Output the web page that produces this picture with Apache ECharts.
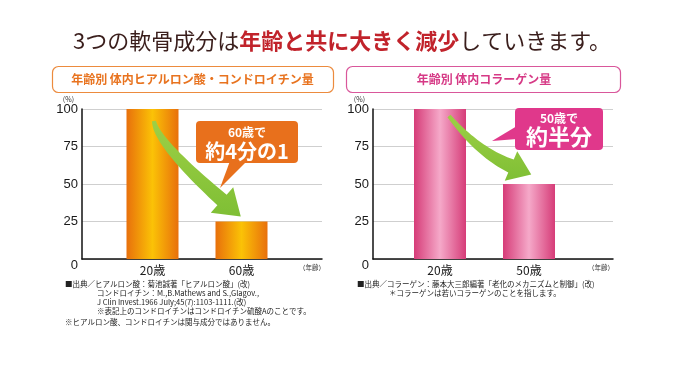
<!DOCTYPE html>
<html><head><meta charset="utf-8">
<script src="https://cdn.jsdelivr.net/npm/echarts@6/dist/echarts.min.js"></script>
<style>html,body{margin:0;padding:0;background:#fff}#c{width:700px;height:368px}</style>
</head><body><div id="c"></div>
<script>
// ---- data ----
const titleDark1 = '3つの軟骨成分は';
const titleRed = '年齢と共に大きく減少';
const titleDark2 = 'していきます。';
const leftHeader = '年齢別 体内ヒアルロン酸・コンドロイチン量';
const rightHeader = '年齢別 体内コラーゲン量';
const leftCategories = ['20歳', '60歳'];
const leftValues = [100, 25];
const rightCategories = ['20歳', '50歳'];
const rightValues = [100, 50];
const yMin = 0, yMax = 100, yStep = 25;
const yUnit = '(%)';
const xUnit = '（年齢）';
const leftCallout = ['60歳で', '約4分の1'];
const rightCallout = ['50歳で', '約半分'];
const leftNotes = [
  '■出典／ヒアルロン酸：菊池誠著「ヒアルロン酸」(改)',
  'コンドロイチン：M.,B.Mathews and S.,Glagov.,',
  'J Clin Invest.1966 July;45(7):1103-1111.(改)',
  '※表記上のコンドロイチンはコンドロイチン硫酸Aのことです。'
];
const bottomNote = '※ヒアルロン酸、コンドロイチンは関与成分ではありません。';
const rightNotes = [
  '■出典／コラーゲン：藤本大三郎編著「老化のメカニズムと制御」(改)',
  '＊コラーゲンは若いコラーゲンのことを指します。'
];

const FONT = '"Noto Sans CJK JP", "Noto Sans", sans-serif';
const NUMFONT = '"Liberation Sans", Arial, sans-serif';
const chart = echarts.init(document.getElementById('c'), null, {renderer: 'canvas'});

function grad(edge, mid) {
  return new echarts.graphic.LinearGradient(0, 0, 1, 0, [
    {offset: 0, color: edge}, {offset: 0.5, color: mid}, {offset: 1, color: edge}
  ]);
}

function arrowPoints(p0, c, p2, w0, w1, headW, headL) {
  const n = 30, L = [], R = [];
  for (let i = 0; i <= n; i++) {
    const t = i / n, u = 1 - t;
    const x = u*u*p0[0] + 2*u*t*c[0] + t*t*p2[0];
    const y = u*u*p0[1] + 2*u*t*c[1] + t*t*p2[1];
    let dx = 2*u*(c[0]-p0[0]) + 2*t*(p2[0]-c[0]);
    let dy = 2*u*(c[1]-p0[1]) + 2*t*(p2[1]-c[1]);
    const d = Math.hypot(dx, dy); dx /= d; dy /= d;
    const w = (w0 + (w1 - w0) * t) / 2;
    L.push([x - dy*w, y + dx*w]);
    R.push([x + dy*w, y - dx*w]);
  }
  let ex = p2[0]-c[0], ey = p2[1]-c[1];
  const e = Math.hypot(ex, ey); ex /= e; ey /= e;
  const tip = [p2[0] + ex*headL, p2[1] + ey*headL];
  const bL = [p2[0] - ey*headW/2, p2[1] + ex*headW/2];
  const bR = [p2[0] + ey*headW/2, p2[1] - ex*headW/2];
  return L.concat([bL, tip, bR], R.reverse());
}

const arrowFill = new echarts.graphic.LinearGradient(0, 0, 0, 1, [
  {offset: 0, color: '#9dcf45'}, {offset: 1, color: '#7fbf35'}
]);

function bgY(gi) {
  return {
    gridIndex: gi, type: 'value', min: yMin, max: yMax, interval: yStep,
    name: yUnit, nameLocation: 'end', nameGap: 6,
    nameTextStyle: {fontSize: 7, color: '#333', align: 'right', padding: [0, 8, 0, 0], fontFamily: FONT},
    axisLine: {show: true, lineStyle: {color: '#111', width: 1.5}},
    axisTick: {show: false},
    axisLabel: {
      margin: 4, fontSize: 13, color: '#1a1a1a', fontFamily: NUMFONT,
      formatter: v => v === 0 ? '{z|0}' : String(v),
      rich: {z: {fontSize: 13, color: '#1a1a1a', padding: [12, 0, 0, 0], fontFamily: NUMFONT}}
    },
    splitLine: {show: true, lineStyle: {color: '#cfcfcf', width: 1}}
  };
}
function bgX(gi) {
  return {
    gridIndex: gi, type: 'value', min: 0, max: 1,
    axisLine: {show: true, onZero: false, lineStyle: {color: '#111', width: 1.5}},
    axisTick: {show: false}, axisLabel: {show: false}, splitLine: {show: false}
  };
}
function barX(gi, cats) {
  return {
    gridIndex: gi, type: 'category', data: cats,
    axisLine: {show: false}, axisTick: {show: false},
    axisLabel: {margin: 5, fontSize: 12, color: '#1a1a1a', fontFamily: FONT}
  };
}
function barY(gi) {
  return {gridIndex: gi, type: 'value', min: yMin, max: yMax, show: false, splitLine: {show: false}};
}

function noteTexts(lines, xs, y0, dy) {
  return lines.map((t, i) => ({
    type: 'text', z: 50, x: xs[i], y: y0 + i * dy,
    style: {text: t, fontSize: 7.5, fill: '#222', fontFamily: FONT, textVerticalAlign: 'middle'}
  }));
}

const option = {
  backgroundColor: '#fff',
  animation: false,
  grid: [
    {left: 82, top: 109, width: 240, height: 150},
    {left: 108, top: 109, width: 178, height: 150},
    {left: 373, top: 109, width: 240, height: 150},
    {left: 395.5, top: 109, width: 178, height: 150}
  ],
  xAxis: [bgX(0), barX(1, leftCategories), bgX(2), barX(3, rightCategories)],
  yAxis: [bgY(0), barY(1), bgY(2), barY(3)],
  series: [
    {type: 'bar', xAxisIndex: 1, yAxisIndex: 1, data: leftValues, barWidth: 52,
     itemStyle: {color: grad('#e8700c', '#fbc206')}},
    {type: 'bar', xAxisIndex: 3, yAxisIndex: 3, data: rightValues, barWidth: 52,
     itemStyle: {color: grad('#d63c78', '#f5a9c9')}}
  ],
  graphic: [
    // title
    {type: 'text', z: 50, x: 342, y: 41,
     style: {text: '{a|' + titleDark1 + '}{b|' + titleRed + '}{a|' + titleDark2 + '}',
       textAlign: 'center', textVerticalAlign: 'middle',
       rich: {
         a: {fontSize: 22, fill: '#3a1e1c', fontFamily: FONT},
         b: {fontSize: 22, fill: '#c1232b', fontWeight: 'bold', fontFamily: FONT}
       }}},
    // headers
    {type: 'rect', z: 50, shape: {x: 52.5, y: 66.5, width: 281, height: 26, r: 6},
     style: {fill: '#fff', stroke: '#ec8b3e', lineWidth: 1.2}},
    {type: 'text', z: 51, x: 192.5, y: 79.5,
     style: {text: leftHeader, fontSize: 12, fontWeight: 'bold', fill: '#e8731f', fontFamily: FONT,
       textAlign: 'center', textVerticalAlign: 'middle'}},
    {type: 'rect', z: 50, shape: {x: 346.5, y: 66.5, width: 274, height: 26, r: 6},
     style: {fill: '#fff', stroke: '#d9579b', lineWidth: 1.2}},
    {type: 'text', z: 51, x: 484, y: 79.5,
     style: {text: rightHeader, fontSize: 12, fontWeight: 'bold', fill: '#d63a86', fontFamily: FONT,
       textAlign: 'center', textVerticalAlign: 'middle'}},
    // arrows
    {type: 'polygon', z: 60, shape: {points: arrowPoints([154, 121], [156, 142], [222, 200], 4, 14, 34, 25)},
     style: {fill: arrowFill}},
    {type: 'polygon', z: 60, shape: {points: arrowPoints([449, 116], [478, 152], [511, 166], 4, 14, 32, 22)},
     style: {fill: arrowFill}},
    // left callout
    {type: 'rect', z: 70, shape: {x: 196, y: 121, width: 102, height: 42, r: 4}, style: {fill: '#e8701c'}},
    {type: 'polygon', z: 70, shape: {points: [[230, 161], [247, 161], [220, 188]]}, style: {fill: '#e8701c'}},
    {type: 'text', z: 71, x: 247, y: 132,
     style: {text: leftCallout[0], fontSize: 12, fontWeight: 'bold', fill: '#fff', fontFamily: FONT,
       textAlign: 'center', textVerticalAlign: 'middle'}},
    {type: 'text', z: 71, x: 247, y: 151,
     style: {text: leftCallout[1], fontSize: 20, fontWeight: 'bold', fill: '#fff', fontFamily: FONT,
       textAlign: 'center', textVerticalAlign: 'middle'}},
    // right callout
    {type: 'rect', z: 70, shape: {x: 515, y: 108, width: 88, height: 42, r: 4}, style: {fill: '#e0388b'}},
    {type: 'polygon', z: 70, shape: {points: [[517, 126], [517, 139], [492, 141]]}, style: {fill: '#e0388b'}},
    {type: 'text', z: 71, x: 559, y: 118,
     style: {text: rightCallout[0], fontSize: 12, fontWeight: 'bold', fill: '#fff', fontFamily: FONT,
       textAlign: 'center', textVerticalAlign: 'middle'}},
    {type: 'text', z: 71, x: 559, y: 137,
     style: {text: rightCallout[1], fontSize: 22, fontWeight: 'bold', fill: '#fff', fontFamily: FONT,
       textAlign: 'center', textVerticalAlign: 'middle'}},
    // x unit labels
    {type: 'text', z: 50, x: 312, y: 268,
     style: {text: xUnit, fontSize: 6.5, fill: '#333', fontFamily: FONT, textAlign: 'center', textVerticalAlign: 'middle'}},
    {type: 'text', z: 50, x: 601, y: 268,
     style: {text: xUnit, fontSize: 6.5, fill: '#333', fontFamily: FONT, textAlign: 'center', textVerticalAlign: 'middle'}}
  ]
    .concat(noteTexts(leftNotes, [65, 97, 97, 97], 284, 9))
    .concat(noteTexts([bottomNote], [65], 322, 9))
    .concat(noteTexts(rightNotes, [357, 389], 284, 9))
};
chart.setOption(option);
</script>
</body></html>
